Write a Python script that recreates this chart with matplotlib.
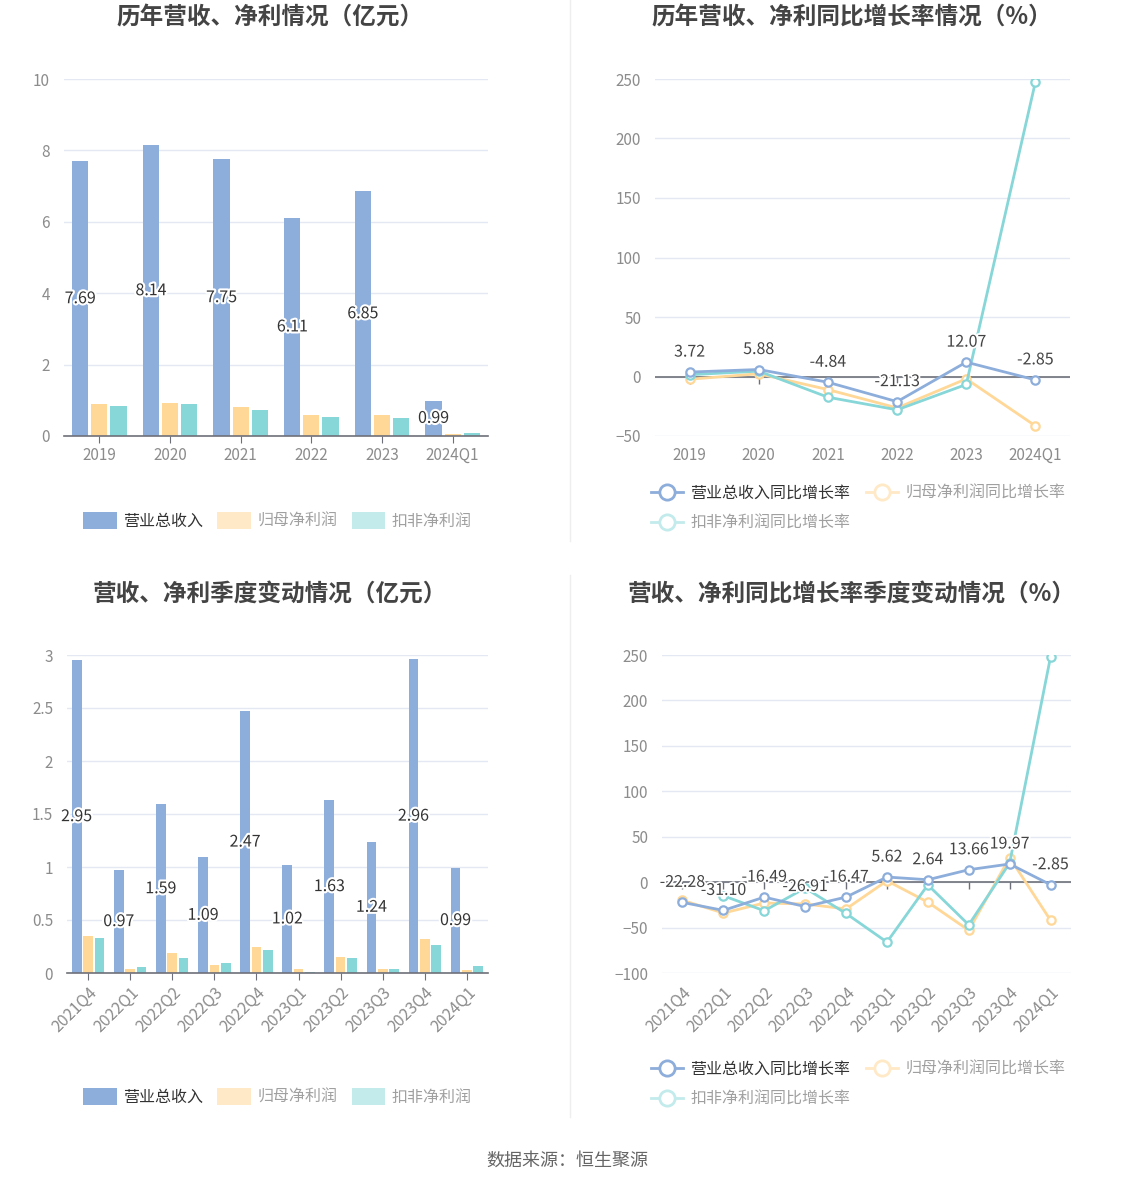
import matplotlib
matplotlib.use("Agg")
import matplotlib.pyplot as plt
import numpy as np
from matplotlib import patheffects as pe
from matplotlib.lines import Line2D
from matplotlib.patches import Patch
import matplotlib.markers as mmarkers

plt.rcParams['font.family'] = ['Noto Sans CJK SC', 'DejaVu Sans']

# ---------------- data ----------------
years = ['2019', '2020', '2021', '2022', '2023', '2024Q1']
rev_y = [7.69, 8.14, 7.75, 6.11, 6.85, 0.99]
np_y = [0.90, 0.92, 0.82, 0.60, 0.59, 0.05]
dnp_y = [0.84, 0.89, 0.74, 0.53, 0.50, 0.09]

rev_g_y = [3.72, 5.88, -4.84, -21.13, 12.07, -2.85]
np_g_y = [-2.3, 2.3, -11.0, -26.4, -2.0, -41.5]
dnp_g_y = [1.5, 4.5, -17.4, -28.0, -6.7, 247.5]

quarters = ['2021Q4', '2022Q1', '2022Q2', '2022Q3', '2022Q4',
            '2023Q1', '2023Q2', '2023Q3', '2023Q4', '2024Q1']
rev_q = [2.95, 0.97, 1.59, 1.09, 2.47, 1.02, 1.63, 1.24, 2.96, 0.99]
np_q = [0.35, 0.04, 0.19, 0.075, 0.245, 0.04, 0.15, 0.035, 0.32, 0.025]
dnp_q = [0.33, 0.055, 0.14, 0.09, 0.215, 0.013, 0.14, 0.04, 0.265, 0.065]

rev_g_q = [-22.28, -31.10, -16.49, -26.91, -16.47, 5.62, 2.64, 13.66, 19.97, -2.85]
np_g_q = [-20.0, -34.0, -23.0, -24.0, -29.5, 1.5, -22.0, -53.0, 27.0, -42.0]
dnp_g_q = [np.nan, -15.0, -31.5, -6.5, -34.5, -66.0, -3.0, -47.0, 21.0, 248.0]

bar_names = ['营业总收入', '归母净利润', '扣非净利润']
line_names = ['营业总收入同比增长率', '归母净利润同比增长率', '扣非净利润同比增长率']
titles = ['历年营收、净利情况（亿元）', '历年营收、净利同比增长率情况（%）',
          '营收、净利季度变动情况（亿元）', '营收、净利同比增长率季度变动情况（%）']
source = '数据来源：恒生聚源'

# ---------------- style ----------------
C_BLUE = '#8DADDB'
C_YEL = '#FFD797'
C_CYAN = '#87D6D8'
C_YEL_F = '#FFE9C6'
C_CYAN_F = '#C3EBEC'
GRID = '#E3E8F2'
TICK = '#8C8C8C'
AXIS = '#6E7079'

W, H = 1134, 1188
fig = plt.figure(figsize=(W / 100, H / 100), dpi=100)


def rect(l, t, r, b):
    return [l / W, 1 - b / H, (r - l) / W, (b - t) / H]


def base_style(ax):
    for s in ['top', 'right', 'left']:
        ax.spines[s].set_visible(False)
    ax.grid(axis='y', color=GRID, linewidth=1)
    ax.set_axisbelow(True)
    ax.tick_params(axis='y', length=0, labelsize=11, labelcolor=TICK, pad=10)
    ax.tick_params(axis='x', labelsize=11, labelcolor=TICK)


def bar_panel(ax, cats, rev, npv, dnp, ylim, yticks, ylabels, rotate):
    x = np.arange(len(cats))
    w = 0.23
    off = 0.27
    ax.bar(x - off, rev, w, color=C_BLUE, zorder=2)
    ax.bar(x, npv, w, color=C_YEL, zorder=2)
    ax.bar(x + off, dnp, w, color=C_CYAN, zorder=2)
    for xi, v in zip(x, rev):
        ax.text(xi - off, v / 2, f'{v:.2f}', ha='center', va='center', fontsize=11.5,
                color='#333333', zorder=5,
                path_effects=[pe.withStroke(linewidth=3, foreground='white')])
    base_style(ax)
    ax.set_xlim(-0.5, len(cats) - 0.5)
    ax.set_ylim(*ylim)
    ax.set_yticks(yticks)
    ax.set_yticklabels(ylabels)
    ax.set_xticks(x)
    ax.spines['bottom'].set_color(AXIS)
    ax.spines['bottom'].set_linewidth(1.2)
    ax.spines['bottom'].set_zorder(3)
    if rotate:
        ax.set_xticklabels(cats, rotation=45, ha='right', rotation_mode='anchor')
        ax.tick_params(axis='x', length=5, color=AXIS, pad=3, labelsize=11.5)
    else:
        ax.set_xticklabels(cats)
        ax.tick_params(axis='x', length=5, color=AXIS, pad=3)


def line_panel(ax, cats, a, b, c, ylim, yticks, rotate, label_off):
    x = np.arange(len(cats))
    kw = dict(linewidth=2, marker='o', markersize=6, markerfacecolor='white',
              markeredgewidth=1.6)
    ax.axhline(0, color=AXIS, linewidth=1.2, zorder=1)
    ax.plot(x, np.zeros(len(x)), linestyle='none', marker=mmarkers.TICKDOWN,
            markersize=5, color=AXIS, zorder=1)
    ax.plot(x, b, color=C_YEL, zorder=3, **kw)
    ax.plot(x, c, color=C_CYAN, zorder=3, **kw)
    ax.plot(x, a, color=C_BLUE, zorder=4, **kw)
    for xi, v in zip(x, a):
        ax.annotate(f'{v:.2f}', (xi, v), xytext=(0, label_off), textcoords='offset pixels',
                    ha='center', va='center', fontsize=11.5, color='#444444', zorder=6,
                    path_effects=[pe.withStroke(linewidth=2.5, foreground='white')])
    base_style(ax)
    ax.spines['bottom'].set_visible(False)
    ax.set_xlim(-0.5, len(cats) - 0.5)
    ax.set_ylim(*ylim)
    ax.set_yticks(yticks)
    ax.set_xticks(x)
    if rotate:
        ax.set_xticklabels(cats, rotation=45, ha='right', rotation_mode='anchor')
        ax.tick_params(axis='x', length=0, pad=8, labelsize=11.5)
    else:
        ax.set_xticklabels(cats)
        ax.tick_params(axis='x', length=0, pad=8)


def bar_legend(y_px, x_px):
    handles = [Patch(facecolor=C_BLUE), Patch(facecolor=C_YEL_F), Patch(facecolor=C_CYAN_F)]
    leg = fig.legend(handles, bar_names, loc='center left',
                     bbox_to_anchor=(x_px / W, 1 - y_px / H), ncol=3, frameon=False,
                     fontsize=11.5, handlelength=2.1, handleheight=1.25,
                     handletextpad=0.4, columnspacing=0.9, borderpad=0, borderaxespad=0)
    cols = ['#333333', '#A0A0A0', '#A0A0A0']
    for t, col in zip(leg.get_texts(), cols):
        t.set_color(col)


def line_legend(y_px, x_px):
    def h(col):
        return Line2D([], [], color=col, linewidth=2, marker='o', markersize=11,
                      markerfacecolor='white', markeredgewidth=2)
    handles = [h(C_BLUE), h(C_CYAN_F), h(C_YEL_F)]
    labels = [line_names[0], line_names[2], line_names[1]]
    leg = fig.legend(handles, labels, loc='upper left',
                     bbox_to_anchor=(x_px / W, 1 - y_px / H), ncol=2, frameon=False,
                     fontsize=11.5, handlelength=2.0, handletextpad=0.45,
                     columnspacing=1.0, labelspacing=0.8, borderpad=0, borderaxespad=0)
    cols = ['#333333', '#A0A0A0', '#A0A0A0']
    for t, col in zip(leg.get_texts(), cols):
        t.set_color(col)


# top-left
ax1 = fig.add_axes(rect(64, 79, 488, 436))
bar_panel(ax1, years, rev_y, np_y, dnp_y, (0, 10), [0, 2, 4, 6, 8, 10],
          ['0', '2', '4', '6', '8', '10'], False)

# top-right
ax2 = fig.add_axes(rect(655, 79, 1070, 436))
line_panel(ax2, years, rev_g_y, np_g_y, dnp_g_y, (-50, 250),
           [-50, 0, 50, 100, 150, 200, 250], False, 20)

# bottom-left
ax3 = fig.add_axes(rect(67, 655, 488, 973))
bar_panel(ax3, quarters, rev_q, np_q, dnp_q, (0, 3), [0, 0.5, 1, 1.5, 2, 2.5, 3],
          ['0', '0.5', '1', '1.5', '2', '2.5', '3'], True)

# bottom-right
ax4 = fig.add_axes(rect(662, 655, 1071, 973))
line_panel(ax4, quarters, rev_g_q, np_g_q, dnp_g_q, (-100, 250),
           [-100, -50, 0, 50, 100, 150, 200, 250], True, 20)

# titles
for (cx, cy), t in zip([(270, 18), (852, 18), (270, 594), (852, 594)], titles):
    fig.text(cx / W, 1 - cy / H, t, ha='center', va='center', fontsize=17,
             fontweight='bold', color='#444444')

# legends
bar_legend(521, 83)
bar_legend(1097, 83)
line_legend(485, 651)
line_legend(1061, 651)

# separators
fig.add_artist(Line2D([570 / W, 570 / W], [1 - 0 / H, 1 - 541 / H], color='#EEEEEE', linewidth=1))
fig.add_artist(Line2D([570 / W, 570 / W], [1 - 575 / H, 1 - 1117 / H], color='#EEEEEE', linewidth=1))

fig.text(567 / W, 1 - 1161 / H, source, ha='center', va='center', fontsize=13, color='#666666')

fig.savefig('out.png', dpi=100, facecolor='white')
